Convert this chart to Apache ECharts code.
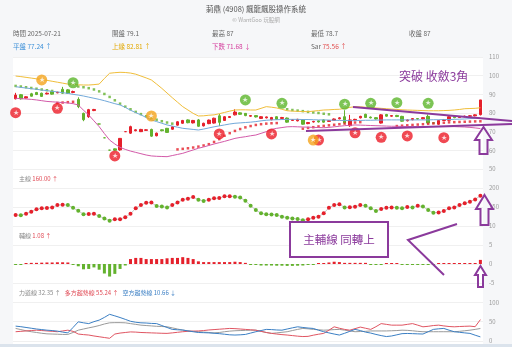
<!DOCTYPE html>
<html lang="zh-Hant">
<head>
<meta charset="utf-8">
<title>莿鼎 (4908) 飆龍飆股操作系統</title>
<script src="https://cdn.jsdelivr.net/npm/echarts@6.0.0/dist/echarts.min.js"></script>
<style>
  html, body { margin: 0; padding: 0; background: #f6f7f9; }
  #chart { width: 512px; height: 347px; }
</style>
</head>
<body>
<div id="chart"></div>
<script>
// K線 (open / close / low / high)
var opens = [87.6,89.8,88.0,90.3,91.0,90.6,90.2,91.5,90.8,92.7,92.4,91.0,87.3,79.8,78.0,81.3,74.1,66.7,60.1,60.8,
  60.2,70.0,69.2,70.5,70.0,70.7,71.2,67.8,71.0,71.8,71.3,73.5,74.5,76.3,74.7,76.3,73.1,74.3,74.6,78.5,
  76.0,77.6,79.0,80.1,79.8,78.3,78.6,77.1,77.4,76.4,78.0,77.1,77.3,76.0,75.8,76.4,74.3,75.2,75.8,76.3,
  75.5,76.0,76.9,78.0,73.2,76.2,77.4,79.3,77.8,77.5,74.6,79.2,78.3,78.7,78.2,75.8,76.4,77.0,76.9,78.2,
  74.8,74.0,76.0,76.1,78.1,77.6,78.0,78.3,78.5,79.1]
var closes = [89.6,87.6,88.7,89.0,89.9,88.9,90.6,90.1,91.1,90.6,90.5,91.5,83.4,76.4,81.8,81.9,74.1,66.7,60.1,60.0,
  66.4,70.0,72.7,71.0,71.2,71.0,67.6,69.2,70.5,69.6,72.6,75.3,76.0,74.8,76.0,72.9,74.5,76.2,77.2,75.0,
  78.0,78.1,80.5,79.3,78.6,78.6,77.9,78.0,77.9,77.6,76.6,77.6,75.1,76.4,76.6,74.0,74.9,75.5,75.2,75.1,
  75.9,76.8,77.4,74.6,76.3,76.6,78.2,77.6,77.4,76.8,79.0,78.3,78.6,78.1,75.6,76.3,77.0,76.8,77.5,74.6,
  74.5,76.0,76.5,78.0,77.5,77.9,78.3,78.5,79.0,87.0]
var lows = [87.3,87.2,87.8,88.8,89.6,88.6,90.0,89.8,90.6,90.3,90.2,90.6,82.6,75.6,77.4,81.0,74.0,66.6,60.0,59.6,
  59.8,69.9,68.8,70.2,69.8,70.4,67.2,67.5,70.2,69.3,71.0,73.2,74.2,74.5,74.4,72.6,72.8,74.0,74.3,73.0,
  75.7,77.3,78.7,79.0,78.3,78.0,77.6,76.8,77.1,76.1,76.3,76.8,74.8,75.7,75.5,73.7,74.0,74.9,74.9,74.8,
  75.2,75.7,76.6,74.2,72.6,75.8,77.1,77.3,77.1,76.5,74.3,78.0,78.0,77.8,75.3,75.5,76.1,76.5,76.6,74.3,
  74.2,73.7,75.7,75.8,77.2,77.3,77.7,78.0,78.2,78.7]
var highs = [90.8,90.2,89.0,90.8,91.3,90.9,91.0,91.8,91.4,94.0,92.8,92.0,88.4,80.2,82.2,82.2,74.2,66.8,60.2,61.0,
  66.6,70.1,73.2,71.3,71.5,71.3,71.6,69.5,71.2,72.0,72.9,75.6,76.3,76.6,76.3,76.8,74.8,76.5,77.5,79.5,
  78.3,78.4,82.0,80.4,80.0,78.9,78.9,78.3,78.1,77.9,78.3,77.9,77.6,76.6,76.9,76.7,75.2,75.8,76.0,76.6,
  76.2,77.1,77.8,81.5,79.0,76.9,78.5,79.6,78.1,77.8,79.4,79.5,78.9,79.0,78.5,76.6,77.3,77.3,77.8,79.2,
  75.1,76.3,76.8,78.3,78.4,78.2,78.6,78.8,79.3,87.0]

// 上緣 / 平盤 / 下跌
var upperBand = [99.8,99.5,99.1,98.7,98.3,98.0,97.5,97.0,96.5,96.0,95.5,95.3,95.1,95.0,95.0,95.2,95.5,98.5,101.3,101.6,
  101.8,101.7,101.4,100.8,99.8,98.8,97.7,95.5,93.2,90.7,88.2,85.8,83.4,81.6,79.8,78.4,78.5,78.8,79.0,79.6,
  80.3,81.0,81.6,81.7,81.7,81.6,81.6,82.5,83.4,83.1,82.7,82.0,81.2,81.0,80.9,80.8,80.7,81.0,81.3,81.6,
  81.7,81.9,82.0,82.5,83.0,83.4,83.3,83.1,82.9,82.7,82.5,82.3,82.1,81.9,81.7,81.6,81.5,81.4,81.3,81.2,
  81.2,81.2,81.3,81.4,81.6,81.9,82.3,82.4,82.5,82.81]
var midBand = [94.1,93.7,93.4,93.0,92.7,92.3,92.0,91.6,91.3,90.9,90.5,90.0,89.6,89.1,88.5,87.9,87.3,86.6,85.8,85.0,
  84.3,83.0,81.5,80.2,79.0,77.6,76.3,75.4,74.5,73.6,73.0,72.4,71.8,71.5,71.2,70.9,71.4,72.0,72.6,73.1,
  73.6,74.1,74.5,74.7,74.9,75.1,75.4,75.8,76.1,76.3,76.4,76.5,76.6,76.6,76.6,76.5,76.5,76.4,76.3,76.3,
  76.2,76.1,76.0,76.0,75.9,75.9,76.0,76.1,76.1,76.2,76.2,76.3,76.3,76.3,76.3,76.3,76.3,76.3,76.3,76.3,
  76.4,76.4,76.5,76.5,76.6,76.7,76.8,77.0,77.1,77.24]
var lowerBand = [87.9,87.7,87.5,87.3,87.0,86.6,86.2,86.0,85.8,85.6,85.4,85.0,84.3,81.5,78.9,75.8,72.7,69.0,65.5,63.4,
  61.6,60.5,59.6,58.9,58.2,57.5,57.0,56.8,56.7,56.6,57.2,57.8,58.4,59.3,60.2,61.1,61.8,62.6,63.4,64.1,
  64.8,65.6,66.4,66.9,67.3,67.8,68.2,69.1,70.0,71.2,71.8,72.2,72.6,72.7,72.6,72.5,72.4,72.3,72.2,72.1,
  72.3,72.6,72.9,73.2,73.4,73.6,73.5,73.4,73.3,73.2,73.1,73.0,72.9,72.9,72.8,72.8,72.7,72.7,72.7,72.7,
  72.7,72.7,72.7,72.7,72.7,72.6,72.5,72.3,72.0,71.68]

// Sar 點 (上方綠 / 下方紅)
var sarDown = [94.5,94.2,93.8,93.4,93.0,92.6,92.2,91.8,null,null,null,null,94.2,93.8,93.3,92.6,91.6,90.2,88.6,86.8,
  85.0,83.4,82.0,80.6,79.4,78.3,77.3,76.4,75.6,74.9,74.3,null,null,null,null,null,null,null,null,null,
  null,null,null,null,null,null,null,null,null,null,null,null,82.0,81.6,81.3,81.0,80.6,80.3,80.0,79.6,
  79.3,null,null,null,null,null,null,null,null,null,null,null,null,null,null,null,null,null,null,null,
  null,null,null,null,null,null,null,null,null,null]
var sarUp = [null,null,null,null,null,null,null,null,85.4,85.6,85.8,86.0,null,null,null,null,null,null,null,null,
  null,null,null,null,null,null,null,null,null,null,null,60.5,60.8,61.1,61.5,62.0,62.6,63.3,64.5,66.0,
  67.8,69.2,70.4,71.4,72.3,73.0,73.6,74.0,74.3,74.5,74.6,null,null,null,null,71.6,72.0,72.4,72.8,73.1,
  73.4,73.7,74.0,74.3,74.6,74.9,75.1,null,null,null,null,null,null,73.0,73.2,73.4,73.6,73.8,74.0,74.2,
  74.4,74.6,74.8,75.0,75.1,75.2,75.3,75.4,75.5,75.56]

// 訊號星號 [index, price]
var redStars = [[0,80.2],[8,82.5],[19,57],[39,68.8],[49,68.8],[58,65.5],[65,69.4],[70,67],[75,67.7],[82,66.8]]
var greenStars = [[11,96.2],[44,87],[51,85.2],[63,84.7],[68,85.2],[73,85.5],[79,85.2]]
var orangeStars = [[5,97.7],[26,78.4],[57,65.5]]

// 主線
var mainLine = [129,128.5,132.4,137.7,143.9,146.5,147.3,149,155,155.8,155,148,140,131,131.5,132,126,120,114,117.6,
  118,123,132,146.5,155,161,161.8,152.6,151,149,155,161.8,169.3,172,176,169.3,165.8,169.3,172.8,173.6,
  178,178.3,177.3,175,166.6,153.5,142,133.4,130.7,130.5,129,124.6,122,120,118.4,115,117.6,122,124.6,133.4,
  148,155,157,149,149.5,150.8,155,153.5,146.5,139.5,144.7,148,149,148,146.5,150,148.5,153.5,151,142,
  135,135.2,139.5,146.5,149,155,159.7,164,170,179.8]

// 輔線
var subLine = [-0.2,-0.2,0.2,0.3,0.3,0.35,0.4,0.4,0.45,0.45,0.4,-0.1,-0.6,-1.4,-1.3,-0.9,-1.5,-2.5,-3.3,-2.6,
  -1.3,-0.4,1.3,1.6,1.6,1.3,1.3,1.3,1.3,1.5,1.6,1.6,1.8,1.6,1.3,0.7,0.5,0.5,0.5,0.5,
  0.5,0.5,0.6,0.5,0.3,-0.1,-0.2,-0.4,-0.4,-0.4,-0.45,-0.45,-0.5,-0.5,-0.45,-0.4,-0.1,-0.05,0.05,0.1,
  0.4,0.6,0.5,0.3,0.3,0.3,0.3,0.3,-0.1,-0.2,-0.1,0.05,0.05,0.05,-0.1,-0.1,-0.1,-0.1,-0.15,-0.1,
  -0.05,0.1,0.15,0.15,0.2,0.2,0.2,0.2,0.25,1.08]

// 力道線 / 多方趨勢線 / 空方趨勢線
var adx = [32.5,29.5,26.5,24,22,20,18.5,18,17.5,17,17,22,28,31,34,36.7,40,44,47,47.5,
  47.5,47,45,43,41,40,39,38,37.5,36.7,34,31,28,26.5,25,24,23,22,21,22,
  24,25.5,26.5,27,27.5,28,28,25,22,19.7,21,22.5,24,27,30,32.5,31.5,30,29,28,
  28.5,29.5,30,28,26,24,24.5,25,26,26,26,26,26.5,27,28,27.5,26.5,25,24,24,
  24,24,24,24,24,25,26.5,28,30,32.35]
var plusDi = [24,25,26,27,28,27,26,25,24,26,28,25,18,16.5,15.4,13,11,9,7,18,
  20.5,22,23.5,23,22,21.5,21,20.5,20,19.7,21,22.5,24,25,25.5,26,27,28.5,29.5,30.5,
  31.5,32.5,32,31,30,29,28,25,22,19.7,18,16.5,15.4,14,12.5,11.5,12,15,17.5,19.7,
  28,36.7,33,30,28,32,36,33,30,37,45,43,41,41,41,43,45,41,36.7,38,
  40,41,39,37.5,36.7,37.5,38,38.5,37,55.24]
var minusDi = [38.5,37,35,33,31,29.5,28,27,25.6,23,21,35,49.6,47,45,50,54,61,69,65,
  60.7,56,51,48.5,47,46.5,45.5,45,40,35,30,29,28.5,26,24,22,21.5,21,20,19,
  17.5,16,15.4,16,17,20.5,24,27,30,29.5,28.5,28,31,34,36.7,35,33.5,32.5,28,24,
  21,18,15.4,20,25,30,27,23,20.5,17,14,11.5,13,16,19,19.5,19,18.5,18,24,
  30,31.5,32.5,28,24,22.5,21,19.7,15,10.66]

var days = []
for (var i = 0; i < closes.length; i++) days.push(String(i + 1))

var RED = '#e5202b'
var GREEN = '#63b22e'
var PURPLE = '#8b3a9c'
var FONT = '"Noto Sans CJK TC", "Noto Sans", sans-serif'

var candles = []
for (var k = 0; k < closes.length; k++) candles.push([opens[k], closes[k], lows[k], highs[k]])

function xAx (idx) {
  return { type: 'category', gridIndex: idx, data: days, boundaryGap: true, show: false }
}
function yAx (idx, min, max, step, showMin, showMax) {
  return {
    type: 'value', gridIndex: idx, position: 'right', min: min, max: max, interval: step,
    axisLine: { show: false }, axisTick: { show: false },
    axisLabel: { color: '#9a9a9a', fontSize: 6, margin: 6, fontFamily: FONT, showMinLabel: showMin, showMaxLabel: showMax },
    splitLine: { lineStyle: { color: '#f0f0f0', width: 1 } }
  }
}
function starSeries (name, data, color, z) {
  return {
    name: name, type: 'scatter', xAxisIndex: 0, yAxisIndex: 0, data: data,
    symbol: 'circle', symbolSize: 11, z: z,
    itemStyle: { color: color },
    label: { show: true, position: 'inside', formatter: '★', color: '#fff', fontSize: 7 }
  }
}
function txt (x, y, text, size, color, align) {
  return { type: 'text', x: x, y: y, z: 50,
    style: { text: text, fontSize: size, fontFamily: FONT, fill: color, align: align || 'left', verticalAlign: 'middle' } }
}
function richTxt (x, y, text, size, rich) {
  return { type: 'text', x: x, y: y, z: 50,
    style: { text: text, fontSize: size, fontFamily: FONT, fill: '#777', verticalAlign: 'middle', rich: rich } }
}
function upArrow (cx, top, headY, bottom, half, shaftHalf) {
  return { type: 'polygon', z: 60,
    shape: { points: [[cx, top], [cx + half, headY], [cx + shaftHalf, headY], [cx + shaftHalf, bottom],
      [cx - shaftHalf, bottom], [cx - shaftHalf, headY], [cx - half, headY]] },
    style: { fill: 'rgba(255,255,255,0)', stroke: PURPLE, lineWidth: 2 } }
}

var chart = echarts.init(document.getElementById('chart'))
chart.setOption({
  backgroundColor: '#f6f7f9',
  animation: false,
  grid: [
    { left: 13, right: 29, top: 57, height: 112 },
    { left: 13, right: 29, top: 169, height: 57 },
    { left: 13, right: 29, top: 226, height: 76 },
    { left: 13, right: 29, top: 283, height: 58 }
  ],
  xAxis: [xAx(0), xAx(1), xAx(2), xAx(3)],
  yAxis: [
    yAx(0, 50, 110, 10, true, true),
    yAx(1, 100, 250, 50, false, false),
    yAx(2, -10, 10, 5, false, true),
    yAx(3, 0, 150, 50, true, false)
  ],
  series: [
    {
      name: 'K線', type: 'candlestick', xAxisIndex: 0, yAxisIndex: 0, data: candles, barWidth: 3,
      itemStyle: { color: RED, color0: GREEN, borderColor: RED, borderColor0: GREEN, borderWidth: 1 }
    },
    { name: '上緣', type: 'line', xAxisIndex: 0, yAxisIndex: 0, data: upperBand, symbol: 'none', lineStyle: { color: '#f0be3a', width: 1 } },
    { name: '平盤', type: 'line', xAxisIndex: 0, yAxisIndex: 0, data: midBand, symbol: 'none', lineStyle: { color: '#72a9da', width: 1 } },
    { name: '下跌', type: 'line', xAxisIndex: 0, yAxisIndex: 0, data: lowerBand, symbol: 'none', lineStyle: { color: '#d35aa9', width: 1 } },
    { name: 'SarDown', type: 'scatter', xAxisIndex: 0, yAxisIndex: 0, data: sarDown, symbol: 'rect', symbolSize: 2.5, itemStyle: { color: GREEN } },
    { name: 'SarUp', type: 'scatter', xAxisIndex: 0, yAxisIndex: 0, data: sarUp, symbol: 'rect', symbolSize: 2.5, itemStyle: { color: RED } },
    starSeries('red', redStars, '#ec1c27', 10),
    starSeries('green', greenStars, '#5bb52b', 11),
    starSeries('orange', orangeStars, '#f4a41c', 12),
    {
      name: '主線', type: 'line', xAxisIndex: 1, yAxisIndex: 1, data: mainLine,
      symbol: 'circle', symbolSize: 4, showAllSymbol: true,
      lineStyle: { color: '#b8b8b8', width: 0.8 },
      itemStyle: { color: function (p) { var i = p.dataIndex; return (i === 0 || mainLine[i] >= mainLine[i - 1]) ? RED : GREEN } }
    },
    {
      name: '輔線', type: 'bar', xAxisIndex: 2, yAxisIndex: 2, data: subLine, barWidth: 3, barMinHeight: 1,
      itemStyle: { color: function (p) { return p.value >= 0 ? RED : GREEN } }
    },
    { name: '力道線', type: 'line', xAxisIndex: 3, yAxisIndex: 3, data: adx, symbol: 'none', lineStyle: { color: '#9a9a9a', width: 1 } },
    { name: '多方趨勢線', type: 'line', xAxisIndex: 3, yAxisIndex: 3, data: plusDi, symbol: 'none', lineStyle: { color: '#e05562', width: 1 } },
    { name: '空方趨勢線', type: 'line', xAxisIndex: 3, yAxisIndex: 3, data: minusDi, symbol: 'none', lineStyle: { color: '#3b7fc4', width: 1 } }
  ],
  graphic: [
    { type: 'rect', z: -100, silent: true, shape: { x: 13, y: 57, width: 470, height: 287 }, style: { fill: '#ffffff' } },
    { type: 'rect', z: -100, silent: true, shape: { x: 0, y: 344, width: 512, height: 3 }, style: { fill: '#dbe3ec' } },
    txt(256, 9, '莿鼎 (4908) 飆龍飆股操作系統', 7.5, '#555', 'center'),
    txt(256, 20, '© WantGoo 玩股網', 5.5, '#aaa', 'center'),
    txt(13, 34, '時間 2025-07-21', 6.5, '#666'),
    txt(112, 34, '開盤 79.1', 6.5, '#666'),
    txt(212, 34, '最高 87', 6.5, '#666'),
    txt(311, 34, '最低 78.7', 6.5, '#666'),
    txt(409, 34, '收盤 87', 6.5, '#666'),
    txt(13, 47, '平盤 77.24 ↑', 6.5, '#3b8fd8'),
    txt(112, 47, '上緣 82.81 ↑', 6.5, '#e2a800'),
    txt(212, 47, '下跌 71.68 ↓', 6.5, '#d43c9c'),
    richTxt(311, 47, '{a|Sar} {b|75.56 ↑}', 6.5, { a: { fill: '#666' }, b: { fill: '#e04a4a' } }),
    richTxt(19, 179, '{a|主線} {b|160.00 ↑}', 6, { a: { fill: '#888' }, b: { fill: '#e04a55' } }),
    richTxt(19, 236, '{a|輔線} {b|1.08 ↑}', 6, { a: { fill: '#888' }, b: { fill: '#e04a55' } }),
    richTxt(19, 293, '{a|力道線 32.35 ↑}   {b|多方趨勢線 55.24 ↑}   {c|空方趨勢線 10.66 ↓}', 6,
      { a: { fill: '#888' }, b: { fill: '#e04a55' }, c: { fill: '#3b7fc4' } }),
    // 手繪標註
    txt(399, 76, '突破 收斂3角', 12, PURPLE),
    { type: 'line', z: 60, shape: { x1: 353, y1: 107, x2: 512, y2: 121 }, style: { stroke: PURPLE, lineWidth: 2 } },
    { type: 'line', z: 60, shape: { x1: 306, y1: 131, x2: 512, y2: 124 }, style: { stroke: PURPLE, lineWidth: 2 } },
    upArrow(483.5, 127, 140, 154, 8.5, 4),
    upArrow(484.5, 195, 209, 225, 8.5, 4),
    upArrow(480.5, 266, 275, 287, 5.5, 2.5),
    { type: 'polyline', z: 60, shape: { points: [[457, 224], [408, 240], [444, 275]] }, style: { stroke: PURPLE, lineWidth: 2, fill: null } },
    { type: 'rect', z: 60, shape: { x: 290, y: 222, width: 98, height: 35 }, style: { fill: '#ffffff', stroke: PURPLE, lineWidth: 2 } },
    { type: 'text', x: 339, y: 240, z: 61,
      style: { text: '主輔線 同轉上', fontSize: 11.5, fontFamily: FONT, fill: PURPLE, align: 'center', verticalAlign: 'middle' } }
  ]
})
</script>
</body>
</html>
